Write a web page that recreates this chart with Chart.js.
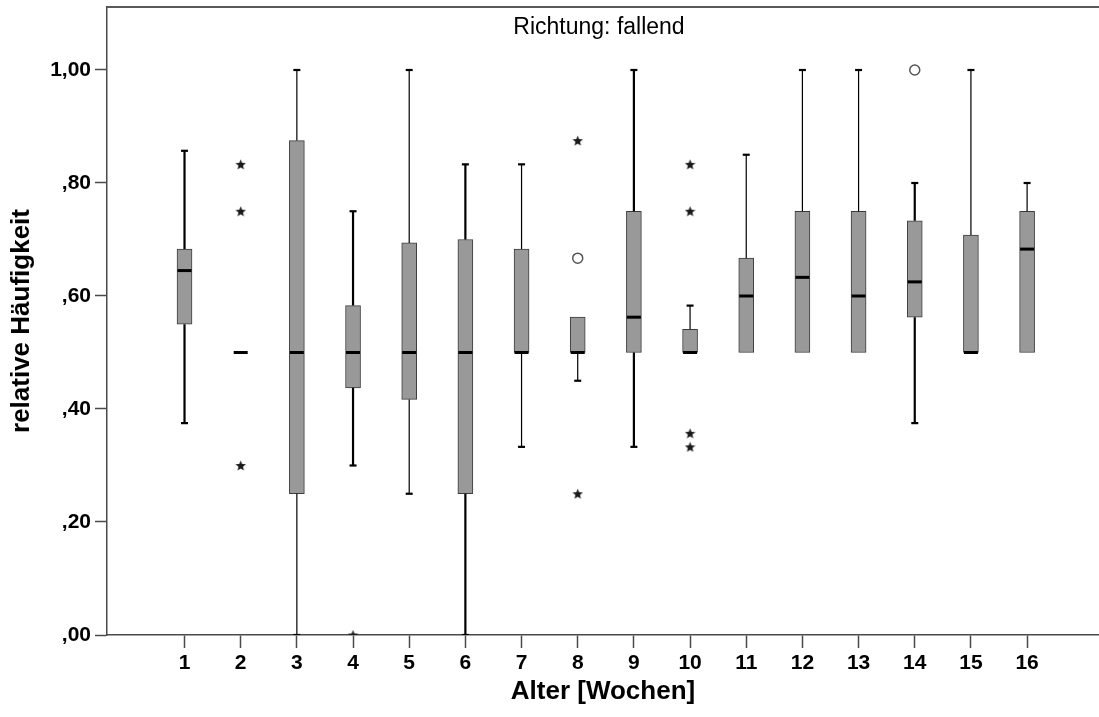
<!DOCTYPE html>
<html>
<head>
<meta charset="utf-8">
<script src="https://cdn.jsdelivr.net/npm/chart.js@4.4.1/dist/chart.umd.min.js"></script>
<style>
  html, body { margin: 0; padding: 0; background: #fff; }
  #wrap { width: 1099px; height: 717px; }
</style>
</head>
<body>
<div id="wrap"><canvas id="c" width="1099" height="717"></canvas></div>
<script>
// Alter in Wochen (Kategorien der x-Achse)
const weeks = [1, 2, 3, 4, 5, 6, 7, 8, 9, 10, 11, 12, 13, 14, 15, 16];

// Kennwerte je Woche: Whisker-Enden, Quartile, Median
const whiskerLow  = [0.375, 0.50, 0.00, 0.300, 0.250, 0.00, 0.333, 0.450, 0.333, 0.500, 0.50, 0.500, 0.50, 0.375, 0.50, 0.500];
const quartile1   = [0.550, 0.50, 0.25, 0.4375, 0.417, 0.25, 0.500, 0.500, 0.500, 0.500, 0.50, 0.500, 0.50, 0.5625, 0.50, 0.500];
const medians     = [0.645, 0.50, 0.50, 0.500, 0.500, 0.50, 0.500, 0.500, 0.5625, 0.500, 0.60, 0.633, 0.60, 0.625, 0.50, 0.683];
const quartile3   = [0.683, 0.50, 0.875, 0.583, 0.694, 0.70, 0.683, 0.5625, 0.750, 0.541, 0.667, 0.750, 0.75, 0.733, 0.708, 0.750];
const whiskerHigh = [0.857, 0.50, 1.00, 0.750, 1.000, 0.833, 0.833, 0.5625, 1.000, 0.583, 0.85, 1.000, 1.00, 0.800, 1.00, 0.800];

// Extremwerte (Sterne) und Ausreißer (Kreise)
const extremeWeeks  = [2, 2, 2, 4, 8, 8, 10, 10, 10, 10];
const extremeValues = [0.833, 0.75, 0.30, 0.00, 0.875, 0.25, 0.833, 0.75, 0.357, 0.333];
const outlierWeeks  = [8, 14];
const outlierValues = [0.667, 1.00];

// Beschriftete Werte der y-Achse
const yTicks = [0, 0.2, 0.4, 0.6, 0.8, 1.0];

// Wochen, deren Whisker kräftiger gezeichnet sind
const boldWhiskerWeeks = [1, 4, 6, 9, 14];

const FONT = '"Liberation Sans", Arial, sans-serif';
const AXIS_COLOR = '#4a4a4a';

// gefüllter Stern als Punktsymbol für Extremwerte
function makeStar(size) {
  const cv = document.createElement('canvas');
  cv.width = size; cv.height = size;
  const g = cv.getContext('2d');
  const c = size / 2, ro = size / 2, ri = size / 4.6;
  g.beginPath();
  for (let k = 0; k < 10; k++) {
    const r = k % 2 === 0 ? ro : ri;
    const a = -Math.PI / 2 + k * Math.PI / 5;
    const px = c + r * Math.cos(a), py = c + 0.5 + r * Math.sin(a);
    if (k === 0) g.moveTo(px, py); else g.lineTo(px, py);
  }
  g.closePath();
  g.fillStyle = '#1a1a1a';
  g.fill();
  return cv;
}
const starSymbol = makeStar(11);

function whiskerSegments(selectBold) {
  const pts = [];
  weeks.forEach((w, i) => {
    if (boldWhiskerWeeks.includes(w) !== selectBold) return;
    if (whiskerHigh[i] > quartile3[i]) {
      pts.push({ x: w, y: quartile3[i] }, { x: w, y: whiskerHigh[i] }, { x: w, y: null });
    }
    if (whiskerLow[i] < quartile1[i]) {
      pts.push({ x: w, y: whiskerLow[i] }, { x: w, y: quartile1[i] }, { x: w, y: null });
    }
  });
  return pts;
}

const capPoints = [];
weeks.forEach((w, i) => {
  if (whiskerHigh[i] > quartile3[i]) capPoints.push({ x: w, y: whiskerHigh[i] });
  if (whiskerLow[i] < quartile1[i]) capPoints.push({ x: w, y: whiskerLow[i] });
});

// Rahmenlinie oben und Untertitel im Diagrammfeld
const framePlugin = {
  id: 'frame',
  afterDraw(chart) {
    const { ctx, chartArea } = chart;
    ctx.save();
    ctx.strokeStyle = '#5a5a5a';
    ctx.lineWidth = 2;
    ctx.beginPath();
    ctx.moveTo(chartArea.left, chartArea.top);
    ctx.lineTo(chartArea.right, chartArea.top);
    ctx.stroke();
    ctx.fillStyle = '#000';
    ctx.font = '23px ' + FONT;
    ctx.textAlign = 'center';
    ctx.textBaseline = 'alphabetic';
    ctx.fillText('Richtung: fallend', (chartArea.left + chartArea.right) / 2 - 4, chartArea.top + 27);
    ctx.restore();
  }
};

new Chart(document.getElementById('c'), {
  type: 'bar',
  data: {
    datasets: [
      {
        type: 'bar',
        label: 'Box',
        data: weeks.map((w, i) => ({ x: w, y: [quartile1[i], quartile3[i]] })),
        backgroundColor: '#999999',
        borderColor: '#3c3c3c',
        borderWidth: 1,
        borderSkipped: false,
        barThickness: 15,
        order: 5
      },
      {
        type: 'line',
        label: 'Whisker',
        data: whiskerSegments(false),
        borderColor: '#000',
        borderWidth: 1.2,
        pointRadius: 0,
        spanGaps: false,
        order: 4
      },
      {
        type: 'line',
        label: 'Whisker kräftig',
        data: whiskerSegments(true),
        borderColor: '#000',
        borderWidth: 2.2,
        pointRadius: 0,
        spanGaps: false,
        order: 4
      },
      {
        type: 'scatter',
        label: 'Enden',
        data: capPoints,
        pointStyle: 'line',
        pointRadius: 3.5,
        borderColor: '#000',
        pointBorderColor: '#000',
        pointBorderWidth: 2.2,
        order: 3
      },
      {
        type: 'scatter',
        label: 'Median',
        data: weeks.map((w, i) => ({ x: w, y: medians[i] })),
        pointStyle: 'line',
        pointRadius: 7,
        borderColor: '#000',
        pointBorderColor: '#000',
        pointBorderWidth: 3,
        order: 2
      },
      {
        type: 'scatter',
        label: 'Extremwerte',
        data: extremeWeeks.map((w, i) => ({ x: w, y: extremeValues[i] })),
        pointStyle: starSymbol,
        order: 1
      },
      {
        type: 'scatter',
        label: 'Ausreißer',
        data: outlierWeeks.map((w, i) => ({ x: w, y: outlierValues[i] })),
        pointStyle: 'circle',
        pointRadius: 5,
        backgroundColor: '#fff',
        pointBackgroundColor: '#fff',
        borderColor: '#555',
        pointBorderColor: '#555',
        pointBorderWidth: 1.5,
        clip: false,
        order: 1
      }
    ]
  },
  options: {
    responsive: false,
    devicePixelRatio: 1,
    animation: false,
    events: [],
    layout: { autoPadding: false, padding: { top: 7, right: 0, bottom: 0, left: 0 } },
    plugins: {
      legend: { display: false },
      tooltip: { enabled: false },
      title: { display: false }
    },
    scales: {
      x: {
        type: 'linear',
        offset: false,
        min: -0.38,
        max: 17.28,
        afterBuildTicks(scale) { scale.ticks = weeks.map(v => ({ value: v })); },
        afterFit(scale) {
          scale.height = 82;
          scale.paddingLeft = 0;
          scale.paddingRight = 0;
        },
        ticks: {
          color: '#000',
          font: { family: FONT, size: 21, weight: 'bold' },
          padding: 3,
          maxRotation: 0,
          autoSkip: false,
          callback: v => String(v)
        },
        grid: {
          display: true,
          offset: false,
          drawOnChartArea: false,
          drawTicks: true,
          tickLength: 13,
          tickColor: AXIS_COLOR,
          tickWidth: 1.5
        },
        border: { display: true, color: AXIS_COLOR, width: 1.5 },
        title: {
          display: true,
          text: 'Alter [Wochen]',
          color: '#000',
          font: { family: FONT, size: 26, weight: 'bold' },
          padding: { top: 0, bottom: 10 }
        }
      },
      y: {
        type: 'linear',
        min: 0,
        max: 1.1115,
        afterBuildTicks(scale) { scale.ticks = yTicks.map(v => ({ value: v })); },
        afterFit(scale) {
          scale.width = 107;
          scale.paddingTop = 0;
          scale.paddingBottom = 0;
        },
        ticks: {
          color: '#000',
          font: { family: FONT, size: 21, weight: 'bold' },
          padding: 4,
          callback: v => v.toFixed(2).replace('.', ',').replace(/^0/, '')
        },
        grid: {
          display: true,
          drawOnChartArea: false,
          drawTicks: true,
          tickLength: 12,
          tickColor: AXIS_COLOR,
          tickWidth: 1.5
        },
        border: { display: true, color: AXIS_COLOR, width: 1.5 },
        title: {
          display: true,
          text: 'relative Häufigkeit',
          color: '#000',
          font: { family: FONT, size: 26, weight: 'bold' },
          padding: { top: 6, bottom: 0 }
        }
      }
    }
  },
  plugins: [framePlugin]
});
</script>
</body>
</html>
